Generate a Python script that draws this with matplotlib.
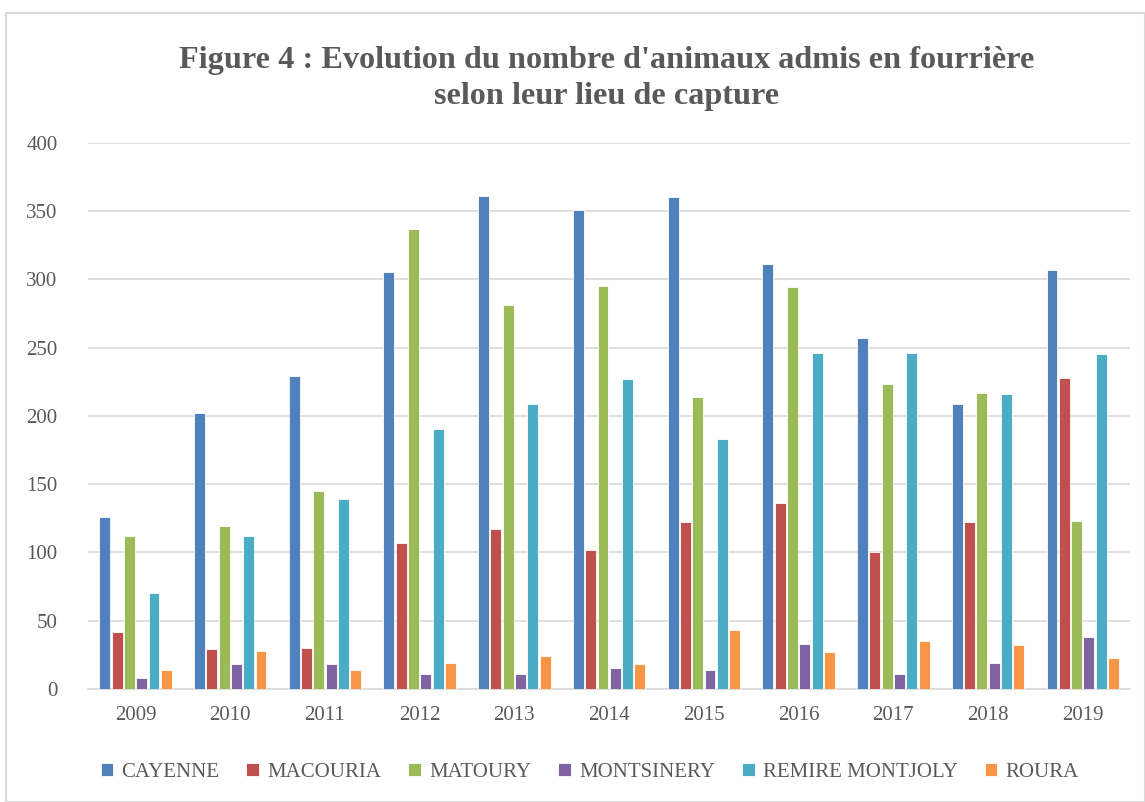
import matplotlib.pyplot as plt
import numpy as np

years = ['2009', '2010', '2011', '2012', '2013', '2014', '2015', '2016', '2017', '2018', '2019']
cayenne = [126, 202, 229, 305, 361, 351, 360, 311, 257, 209, 307]
macouria = [42, 29, 30, 107, 117, 102, 122, 136, 100, 122, 228]
matoury = [112, 119, 145, 337, 281, 295, 214, 294, 223, 217, 123]
montsinery = [8, 18, 18, 11, 11, 15, 14, 33, 11, 19, 38]
remire = [70, 112, 139, 190, 209, 227, 183, 246, 246, 216, 245]
roura = [14, 28, 14, 19, 24, 18, 43, 27, 35, 32, 23]

series = [('CAYENNE', cayenne, '#4F81BD'),
          ('MACOURIA', macouria, '#C0504D'),
          ('MATOURY', matoury, '#9BBB59'),
          ('MONTSINERY', montsinery, '#8064A2'),
          ('REMIRE MONTJOLY', remire, '#4BACC6'),
          ('ROURA', roura, '#F79646')]

plt.rcParams['font.family'] = ['Liberation Serif', 'DejaVu Serif']

fig = plt.figure(figsize=(11.45, 8.02), dpi=100)
ax = fig.add_axes([0.077, 0.141, 0.91, 0.681])

x = np.arange(len(years))
step = 0.13
w = 0.115
for i, (name, vals, col) in enumerate(series):
    ax.bar(x + (i - 2.5) * step, vals, w, color=col, edgecolor='white', linewidth=0.6, label=name, zorder=3)

ax.set_xlim(-0.5, len(years) - 0.5)
ax.set_ylim(0, 400)
ax.set_yticks(range(0, 401, 50))
ax.set_xticks(x)
ax.set_xticklabels(years)
ax.grid(axis='y', color='#D9D9D9', linewidth=1.2, zorder=0)
for s in ['top', 'right', 'left']:
    ax.spines[s].set_visible(False)
ax.spines['bottom'].set_color('#D9D9D9')
ax.spines['bottom'].set_linewidth(1.2)
ax.tick_params(axis='both', length=0, labelsize=15, colors='#595959', pad=12)
ax.tick_params(axis='y', pad=22)

fig.suptitle("Figure 4 : Evolution du nombre d'animaux admis en fourrière\nselon leur lieu de capture",
             x=0.53, y=0.943, fontsize=23.2, fontweight='bold', color='#595959', linespacing=1.32)

handles, labels = ax.get_legend_handles_labels()
fig.legend(handles, labels, loc='center', bbox_to_anchor=(0.515, 0.037), ncol=6, frameon=False,
           fontsize=15, labelcolor='#595959', handlelength=0.6, handleheight=0.6,
           handletextpad=0.4, columnspacing=1.3)

fig.add_artist(plt.Rectangle((0.005, 0.0), 0.995, 0.984, transform=fig.transFigure,
                             fill=False, edgecolor='#D9D9D9', linewidth=1.5))

fig.savefig('out.png', dpi=100)
